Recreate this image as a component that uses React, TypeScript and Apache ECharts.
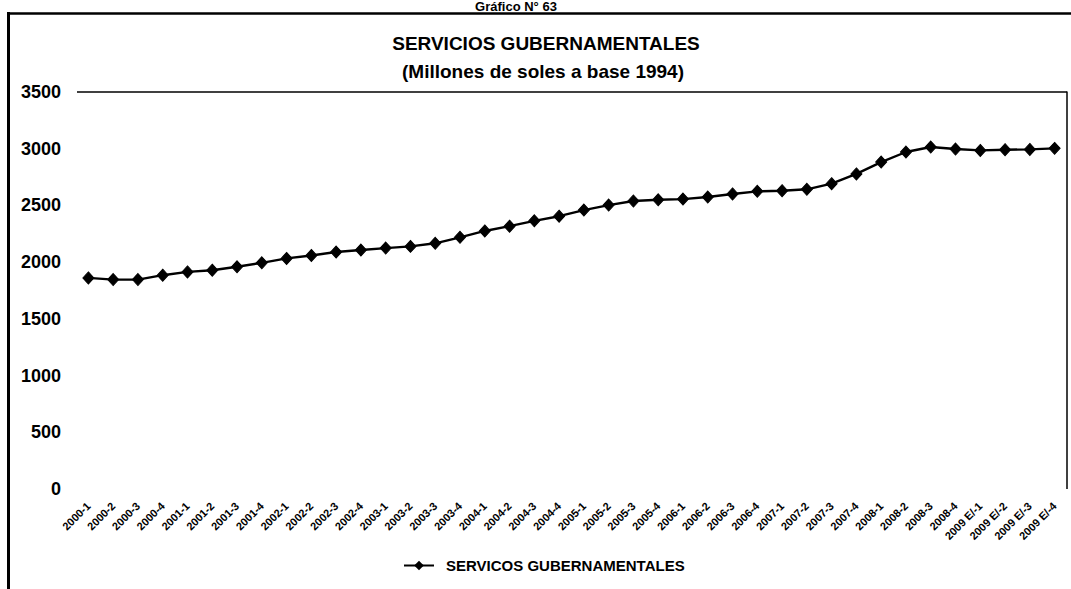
import React, { useEffect, useRef } from "react";
import * as echarts from "echarts";

const categories: string[] = [
  "2000-1", "2000-2", "2000-3", "2000-4",
  "2001-1", "2001-2", "2001-3", "2001-4",
  "2002-1", "2002-2", "2002-3", "2002-4",
  "2003-1", "2003-2", "2003-3", "2003-4",
  "2004-1", "2004-2", "2004-3", "2004-4",
  "2005-1", "2005-2", "2005-3", "2005-4",
  "2006-1", "2006-2", "2006-3", "2006-4",
  "2007-1", "2007-2", "2007-3", "2007-4",
  "2008-1", "2008-2", "2008-3", "2008-4",
  "2009 E/-1", "2009 E/-2", "2009 E/-3", "2009 E/-4",
];

const serviciosValues: number[] = [
  1861, 1846, 1846, 1885,
  1914, 1929, 1959, 1994,
  2033, 2059, 2089, 2107,
  2124, 2139, 2166, 2219,
  2275, 2317, 2364, 2405,
  2459, 2503, 2539, 2550,
  2556, 2574, 2601, 2624,
  2630, 2642, 2692, 2778,
  2882, 2971, 3015, 2997,
  2985, 2991, 2994, 3003,
];

const seriesName = "SERVICOS GUBERNAMENTALES";
const titleText = "SERVICIOS GUBERNAMENTALES";
const subtitleText = "(Millones de soles a base 1994)";
const headerText = "Gráfico N° 63";
const yMin = 0;
const yMax = 3500;
const yInterval = 500;

const FONT = "'Liberation Sans', Arial, sans-serif";

export default function App() {
  const ref = useRef<HTMLDivElement>(null);

  useEffect(() => {
    if (!ref.current) return;
    const chart = echarts.init(ref.current, undefined, { renderer: "svg" });
    chart.setOption({
      animation: false,
      backgroundColor: "#ffffff",
      textStyle: { fontFamily: FONT },
      grid: { left: 76, right: 4, top: 92, bottom: 100, containLabel: false },
      graphic: [
        {
          type: "text",
          x: 516,
          y: 6,
          style: {
            text: headerText,
            fontFamily: FONT,
            fontSize: 13,
            fontWeight: "bold",
            fill: "#000",
            textAlign: "center",
            textVerticalAlign: "middle",
          },
        },
        {
          type: "line",
          shape: { x1: 7, y1: 13.5, x2: 1071, y2: 13.5 },
          style: { stroke: "#000", lineWidth: 2.5 },
        },
        {
          type: "line",
          shape: { x1: 8.5, y1: 12, x2: 8.5, y2: 589 },
          style: { stroke: "#000", lineWidth: 3 },
        },
        {
          type: "line",
          shape: { x1: 77, y1: 92, x2: 1067, y2: 92 },
          style: { stroke: "#000", lineWidth: 1.5 },
        },
        {
          type: "line",
          shape: { x1: 1067, y1: 91.5, x2: 1067, y2: 489 },
          style: { stroke: "#000", lineWidth: 1.5 },
        },
        {
          type: "text",
          x: 546,
          y: 43,
          style: {
            text: titleText,
            fontFamily: FONT,
            fontSize: 19,
            fontWeight: "bold",
            fill: "#000",
            textAlign: "center",
            textVerticalAlign: "middle",
          },
        },
        {
          type: "text",
          x: 543,
          y: 71,
          style: {
            text: subtitleText,
            fontFamily: FONT,
            fontSize: 19,
            fontWeight: "bold",
            fill: "#000",
            textAlign: "center",
            textVerticalAlign: "middle",
          },
        },
      ],
      legend: {
        show: true,
        left: 403,
        top: 558,
        padding: 0,
        itemWidth: 30,
        itemHeight: 12,
        data: [seriesName],
        textStyle: {
          fontFamily: FONT,
          fontSize: 15,
          fontWeight: "bold",
          color: "#000",
          padding: [0, 0, 0, 7],
        },
      },
      xAxis: {
        type: "category",
        data: categories,
        boundaryGap: true,
        axisLine: { show: false },
        axisTick: { show: false },
        splitLine: { show: false },
        axisLabel: {
          interval: 0,
          rotate: 45,
          margin: 15,
          fontFamily: FONT,
          fontSize: 11,
          fontWeight: "bold",
          color: "#000",
        },
      },
      yAxis: {
        type: "value",
        min: yMin,
        max: yMax,
        interval: yInterval,
        axisLine: { show: false },
        axisTick: { show: false },
        splitLine: { show: false },
        axisLabel: {
          margin: 15,
          fontFamily: FONT,
          fontSize: 18,
          fontWeight: "bold",
          color: "#000",
          formatter: (v: number) => String(v),
        },
      },
      series: [
        {
          name: seriesName,
          type: "line",
          data: serviciosValues,
          symbol: "diamond",
          symbolSize: [11, 12],
          showSymbol: true,
          lineStyle: { color: "#000", width: 2.4 },
          itemStyle: { color: "#000", borderColor: "#000" },
        },
      ],
    });
    return () => chart.dispose();
  }, []);

  return (
    <div
      ref={ref}
      style={{ position: "fixed", left: 0, top: 0, width: 1071, height: 589, background: "#fff" }}
    />
  );
}
